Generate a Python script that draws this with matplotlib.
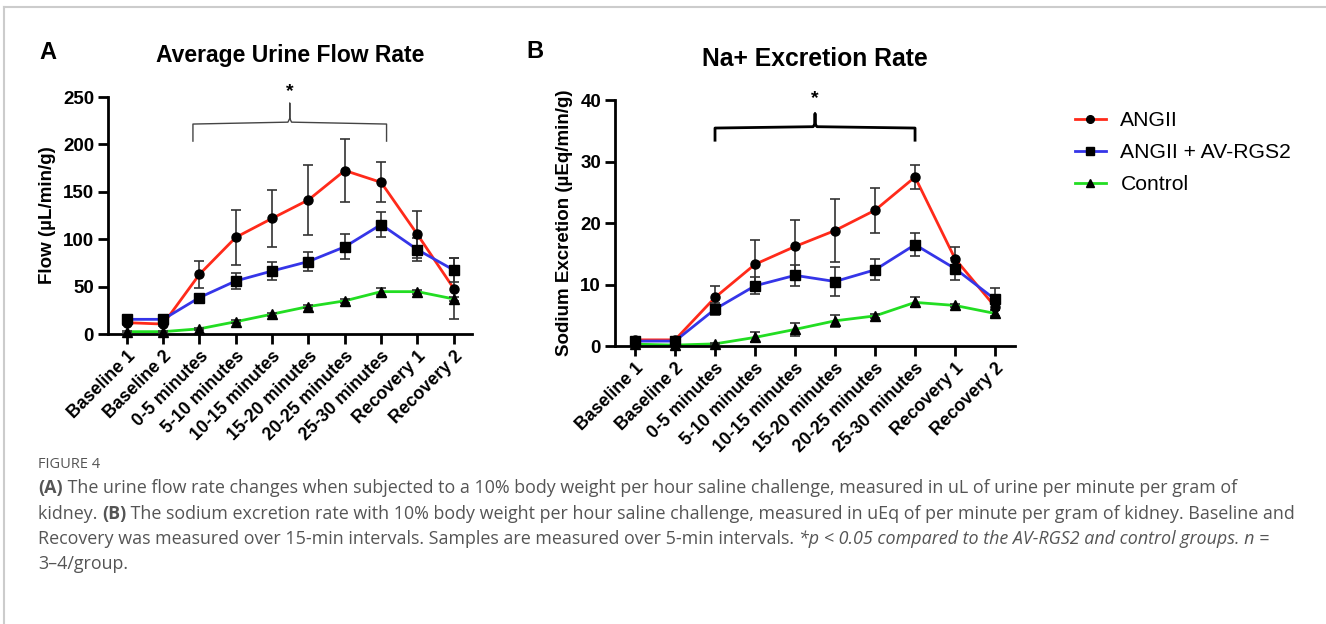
import matplotlib
matplotlib.use("Agg")
import matplotlib.pyplot as plt
from matplotlib.lines import Line2D

plt.rcParams['font.family'] = ['Liberation Sans', 'DejaVu Sans']

# x categories shared by both panels
timepoints = ["Baseline 1", "Baseline 2", "0-5 minutes", "5-10 minutes", "10-15 minutes",
              "15-20 minutes", "20-25 minutes", "25-30 minutes", "Recovery 1", "Recovery 2"]

# Panel A: urine flow (uL/min/g), mean and error
flow_angii = [12, 10.5, 63, 102, 122, 141.5, 172.5, 160, 105, 48]
flow_angii_err = [2, 2, 14, 29, 30, 37, 33, 21, 25, 32]
flow_rgs2 = [15.5, 15.5, 38.5, 56, 66.5, 76.5, 92, 115.5, 89, 67.5]
flow_rgs2_err = [2, 2, 3, 8.5, 10, 10.5, 13, 13, 12, 13]
flow_ctrl = [2.5, 2.5, 5.5, 13, 21, 29, 35, 44.7, 44.7, 37]
flow_ctrl_err = [1, 1, 1, 1.5, 1.5, 1.5, 2, 4, 2, 2]

# Panel B: sodium excretion (uEq/min/g), mean and error
na_angii = [1.0, 1.0, 7.9, 13.3, 16.2, 18.8, 22.1, 27.5, 14.2, 6.4]
na_angii_err = [0.3, 0.3, 1.9, 3.9, 4.3, 5.1, 3.7, 2.0, 1.9, 1.5]
na_rgs2 = [0.8, 0.8, 6.0, 9.8, 11.5, 10.5, 12.4, 16.5, 12.6, 7.6]
na_rgs2_err = [0.3, 0.3, 1.0, 1.4, 1.7, 2.3, 1.7, 1.9, 1.8, 1.8]
na_ctrl = [0.3, 0.15, 0.35, 1.4, 2.7, 4.1, 4.9, 7.1, 6.6, 5.3]
na_ctrl_err = [0.1, 0.1, 0.1, 0.8, 1.0, 1.0, 0.3, 0.8, 0.3, 0.6]

labels = ["ANGII", "ANGII + AV-RGS2", "Control"]
colors = ["#ff2a1a", "#3535e8", "#22dd22"]
markers = ["o", "s", "^"]

fig = plt.figure(figsize=(13.26, 6.24), dpi=100)
axA = fig.add_axes([0.0814, 0.4647, 0.2745, 0.3798])
axB = fig.add_axes([0.4638, 0.4455, 0.3017, 0.3938])


def draw_panel(ax, series, ylim, yticks, ylabel, title, title_size, labelpad):
    x = list(range(len(timepoints)))
    for (vals, errs), lab, col, mk in zip(series, labels, colors, markers):
        ax.plot(x, vals, color=col, lw=2, zorder=2, label=lab)
        ax.errorbar(x, vals, yerr=errs, fmt="none", ecolor="#333333",
                    elinewidth=1.2, capsize=3.5, capthick=1.2, zorder=3)
        ax.plot(x, vals, ls="none", marker=mk, markersize=6.5, color="black", zorder=4, clip_on=False)
    ax.set_xlim(-0.52, 9.5)
    ax.set_ylim(*ylim)
    ax.set_yticks(yticks)
    ax.set_xticks(x)
    ax.set_xticklabels(timepoints, rotation=45, ha="right", rotation_mode="anchor",
                       fontsize=12.8, fontweight="bold")
    for t in ax.get_yticklabels():
        t.set_fontsize(13.5)
        t.set_fontweight("bold")
    ax.spines["top"].set_visible(False)
    ax.spines["right"].set_visible(False)
    ax.spines["left"].set_linewidth(2)
    ax.spines["bottom"].set_linewidth(2)
    ax.tick_params(axis="both", direction="out", length=7, width=2, pad=3)
    ax.set_ylabel(ylabel, fontsize=13.5, fontweight="bold", labelpad=labelpad)
    ax.set_title(title, fontsize=title_size, fontweight="bold", pad=25)


draw_panel(axA, [(flow_angii, flow_angii_err), (flow_rgs2, flow_rgs2_err), (flow_ctrl, flow_ctrl_err)],
           (0, 250), [0, 50, 100, 150, 200, 250], "Flow (µL/min/g)", "Average Urine Flow Rate", 16.5, 5)
draw_panel(axB, [(na_angii, na_angii_err), (na_rgs2, na_rgs2_err), (na_ctrl, na_ctrl_err)],
           (0, 40), [0, 10, 20, 30, 40], "Sodium Excretion (µEq/min/g)", "Na+ Excretion Rate", 17.8, 5)
axB.set_xlim(-0.5, 9.5)


def bracket(ax, x0, x1, y, drop, rise, star_y, lw, color):
    xm = (x0 + x1) / 2
    ax.plot([x0, x0, xm - 0.05, xm, xm, xm, xm + 0.05, x1, x1],
            [y - drop, y - drop * 0.1, y, y + rise * 0.2, y + rise, y + rise * 0.2, y, y - drop * 0.1, y - drop],
            color=color, lw=lw, clip_on=False, solid_joinstyle="round", zorder=5)
    ax.text(xm, star_y, "*", ha="center", va="center", fontsize=14, fontweight="bold")


bracket(axA, 1.82, 7.15, 223.5, 20, 20, 256, 1.0, "#444444")
bracket(axB, 2.0, 7.0, 35.7, 2.2, 2.1, 40.3, 2.0, "black")

# panel letters
fig.text(0.030, 0.916, "A", fontsize=17, fontweight="bold", va="center")
fig.text(0.397, 0.918, "B", fontsize=17, fontweight="bold", va="center")

# legend
handles = [Line2D([0], [0], color=c, lw=2, marker=m, markersize=5.5,
                  markerfacecolor="black", markeredgecolor="black") for c, m in zip(colors, markers)]
fig.legend(handles, labels, loc="upper left", bbox_to_anchor=(1075 / 1326, 1 - 111 / 624), frameon=False,
           fontsize=15.2, handlelength=1.45, handletextpad=0.7, labelspacing=0.62,
           borderpad=0, borderaxespad=0)

# page border lines
fig.add_artist(Line2D([0.003, 1.0], [0.988, 0.988], color="#cccccc", lw=1.5))
fig.add_artist(Line2D([0.003, 0.003], [0.0, 0.988], color="#cccccc", lw=1.5))

# caption
cap_font = ["Open Sans", "DejaVu Sans"]
cap_color = "#555555"
fig.text(38 / 1326, 1 - 464 / 624, "FIGURE 4", fontsize=10.5, color=cap_color,
         family=cap_font, va="center")

caption_lines = [
    [("(A)", "bold", "normal"),
     (" The urine flow rate changes when subjected to a 10% body weight per hour saline challenge, measured in uL of urine per minute per gram of", "normal", "normal")],
    [("kidney. ", "normal", "normal"), ("(B)", "bold", "normal"),
     (" The sodium excretion rate with 10% body weight per hour saline challenge, measured in uEq of per minute per gram of kidney. Baseline and", "normal", "normal")],
    [("Recovery was measured over 15-min intervals. Samples are measured over 5-min intervals. ", "normal", "normal"),
     ("*p < 0.05 compared to the AV-RGS2 and control groups. n =", "normal", "italic")],
    [("3–4/group.", "normal", "normal")],
]
line_y = [488, 514, 539, 564]

renderer = fig.canvas.get_renderer()
for pieces, yp in zip(caption_lines, line_y):
    xpix = 38
    for txt, weight, style in pieces:
        t = fig.text(xpix / 1326, 1 - yp / 624, txt, fontsize=12.85, color=cap_color,
                     family=cap_font, fontweight=weight, fontstyle=style, va="center")
        bb = t.get_window_extent(renderer=renderer)
        xpix += bb.width

fig.savefig("out.png", dpi=100)
